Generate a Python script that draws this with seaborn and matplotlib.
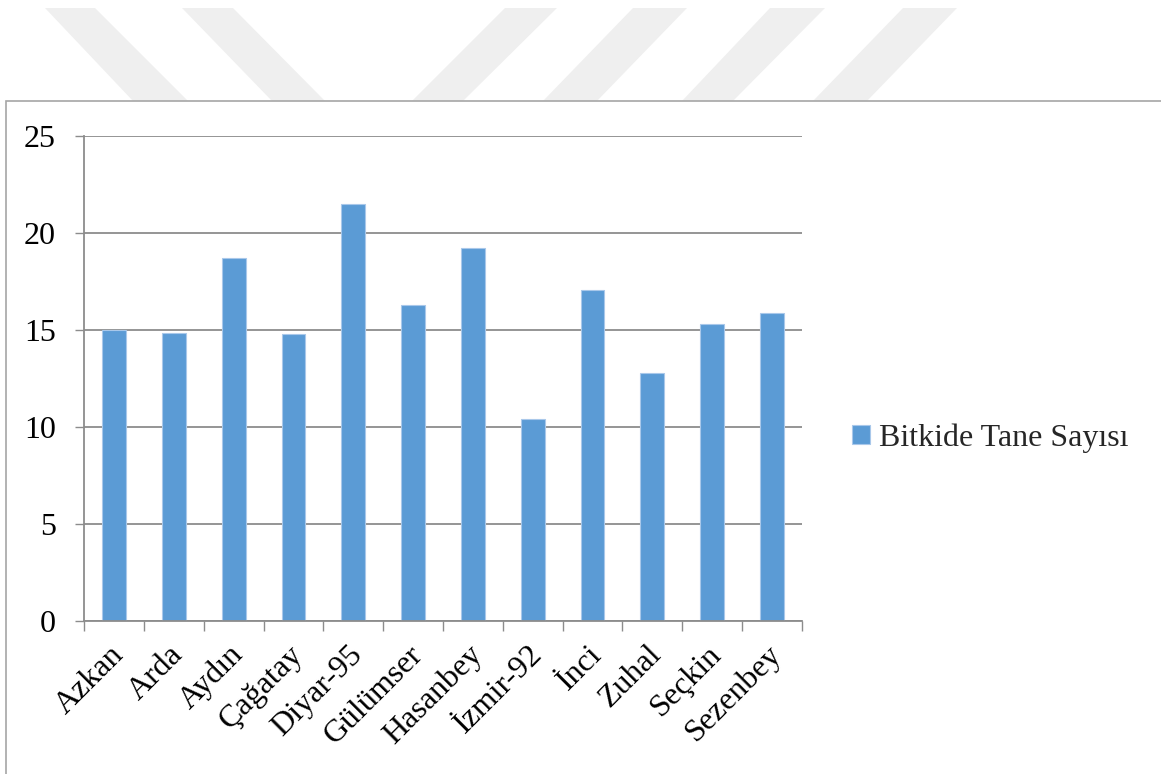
import matplotlib
matplotlib.use("Agg")
import matplotlib.pyplot as plt
from matplotlib.patches import Polygon, Rectangle
from matplotlib.ticker import FixedLocator
from matplotlib.transforms import ScaledTranslation
import seaborn as sns
import pandas as pd

# Cultivars and grain count per plant
cultivars = ["Azkan", "Arda", "Aydın", "Çağatay", "Diyar-95", "Gülümser",
             "Hasanbey", "İzmir-92", "İnci", "Zuhal", "Seçkin", "Sezenbey"]
grain_counts = [15.0, 14.83, 18.71, 14.76, 21.46, 16.30,
                19.21, 10.43, 17.05, 12.80, 15.31, 15.88]
series_name = "Bitkide Tane Sayısı"
y_ticks = [0, 5, 10, 15, 20, 25]

df = pd.DataFrame({"cultivar": cultivars, "value": grain_counts})

sns.set_style("white")
plt.rcParams["font.family"] = ["Liberation Serif", "DejaVu Serif"]

W, H = 1161, 774
fig = plt.figure(figsize=(W / 100, H / 100), dpi=100)

def px(x, y):
    return (x / W, 1 - y / H)

# light diagonal band decoration along the top edge
bands = [
    [(45, 8), (95, 8), (188, 101), (133, 101)],
    [(182, 8), (233, 8), (325, 101), (272, 101)],
    [(505, 8), (557, 8), (463, 101), (412, 101)],
    [(633, 8), (687, 8), (597, 101), (543, 101)],
    [(770, 8), (825, 8), (733, 101), (682, 101)],
    [(903, 8), (957, 8), (867, 101), (813, 101)],
]
for b in bands:
    fig.patches.append(Polygon([px(*p) for p in b], closed=True,
                               transform=fig.transFigure, facecolor="#efefef",
                               edgecolor="none", zorder=0.2))

# chart area border
fig.patches.append(Rectangle(px(6, 790), (W + 20) / W, (790 - 101) / H,
                             transform=fig.transFigure, facecolor="white",
                             edgecolor="#a6a6a6", linewidth=1.2, zorder=0.5))

ax = fig.add_axes([84.3 / W, 1 - 621 / H, (801.7 - 84.3) / W, (621 - 135.7) / H])
ax.set_zorder(2)
ax.patch.set_alpha(0)

sns.barplot(data=df, x="cultivar", y="value", color="#5B9BD5", saturation=1,
            width=0.4, edgecolor="#a9c8ea", linewidth=0.8, label=series_name,
            ax=ax)

grid_c = "#8c8c8c"
fs = 23
ax.set_ylim(0, 25)
ax.set_xlim(-0.5, len(cultivars) - 0.5)
ax.set_yticks(y_ticks)
ax.yaxis.grid(True, color=grid_c, linewidth=1.3)
ax.set_axisbelow(True)
ax.set_xlabel("")
ax.set_ylabel("")

for s in ["top", "right"]:
    ax.spines[s].set_visible(False)
for s in ["left", "bottom"]:
    ax.spines[s].set_color(grid_c)
    ax.spines[s].set_linewidth(1.3)

ax.tick_params(axis="y", direction="out", length=6.5, width=1.0, color=grid_c,
               pad=14, labelsize=fs, labelcolor="black", left=True)
ax.tick_params(axis="x", which="major", length=0, pad=21, labelsize=fs,
               labelcolor="black")
ax.xaxis.set_minor_locator(FixedLocator([i - 0.5 for i in range(len(cultivars) + 1)]))
ax.tick_params(axis="x", which="minor", direction="out", length=7, width=1.0,
               color=grid_c, bottom=True)
shift = ScaledTranslation(5 / 100, 0, fig.dpi_scale_trans)
for lab in ax.get_xticklabels():
    lab.set_rotation(45)
    lab.set_ha("right")
    lab.set_va("center")
    lab.set_rotation_mode("anchor")
    lab.set_transform(lab.get_transform() + shift)

leg = ax.legend(loc="center left", bbox_to_anchor=px(852, 438),
                bbox_transform=fig.transFigure, frameon=False, fontsize=fs,
                handlelength=0.55, handleheight=0.55, handletextpad=0.3,
                borderpad=0, borderaxespad=0)

fig.savefig("out.png", dpi=100)
